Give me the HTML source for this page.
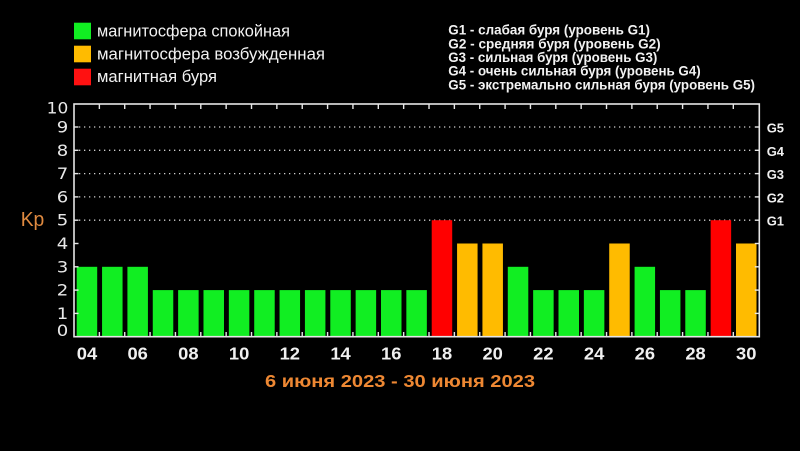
<!DOCTYPE html>
<html><head><meta charset="utf-8">
<style>
html,body{margin:0;padding:0;background:#000;}
svg{display:block;}
</style></head>
<body>
<svg width="800" height="451" viewBox="0 0 800 451" xmlns="http://www.w3.org/2000/svg">
<rect x="0" y="0" width="800" height="451" fill="#000"/>
<!-- Legend left -->
<rect x="74" y="22.7" width="17" height="16.6" fill="#11ee22"/>
<rect x="74" y="45.7" width="17" height="16.6" fill="#ffbb00"/>
<rect x="74" y="68.7" width="17" height="16.6" fill="#ff1111"/>
<g font-family="Liberation Sans, DejaVu Sans, sans-serif" font-size="17" fill="#f2f2f2">
<text x="97" y="36.7" textLength="193" lengthAdjust="spacingAndGlyphs">магнитосфера спокойная</text>
<text x="97" y="59.7" textLength="228" lengthAdjust="spacingAndGlyphs">магнитосфера возбужденная</text>
<text x="97" y="82.2" textLength="120" lengthAdjust="spacingAndGlyphs">магнитная буря</text>
</g>
<!-- Legend right -->
<g font-family="Liberation Sans, DejaVu Sans, sans-serif" font-size="14" font-weight="bold" fill="#f2f2f2">
<text x="448.3" y="34.3" textLength="201.7" lengthAdjust="spacingAndGlyphs">G1 - слабая буря (уровень G1)</text>
<text x="448.3" y="48.3" textLength="212.4" lengthAdjust="spacingAndGlyphs">G2 - средняя буря (уровень G2)</text>
<text x="448.3" y="62" textLength="209" lengthAdjust="spacingAndGlyphs">G3 - сильная буря (уровень G3)</text>
<text x="448.3" y="75.7" textLength="252.4" lengthAdjust="spacingAndGlyphs">G4 - очень сильная буря (уровень G4)</text>
<text x="448.3" y="89.3" textLength="306.7" lengthAdjust="spacingAndGlyphs">G5 - экстремально сильная буря (уровень G5)</text>
</g>
<!-- Grid dotted lines -->
<g stroke="#cfcfcf" stroke-width="1.3" stroke-dasharray="1.3 3.7">
<line x1="79" y1="127" x2="752" y2="127"/>
<line x1="79" y1="150.3" x2="752" y2="150.3"/>
<line x1="79" y1="173.6" x2="752" y2="173.6"/>
<line x1="79" y1="196.9" x2="752" y2="196.9"/>
<line x1="79" y1="220.2" x2="752" y2="220.2"/>
</g>
<!-- Bars -->
<g>
<rect x="76.7" y="266.8" width="20.5" height="69.9" fill="#11ee22"/>
<rect x="102.06" y="266.8" width="20.5" height="69.9" fill="#11ee22"/>
<rect x="127.42" y="266.8" width="20.5" height="69.9" fill="#11ee22"/>
<rect x="152.77" y="290.1" width="20.5" height="46.6" fill="#11ee22"/>
<rect x="178.13" y="290.1" width="20.5" height="46.6" fill="#11ee22"/>
<rect x="203.49" y="290.1" width="20.5" height="46.6" fill="#11ee22"/>
<rect x="228.85" y="290.1" width="20.5" height="46.6" fill="#11ee22"/>
<rect x="254.21" y="290.1" width="20.5" height="46.6" fill="#11ee22"/>
<rect x="279.56" y="290.1" width="20.5" height="46.6" fill="#11ee22"/>
<rect x="304.92" y="290.1" width="20.5" height="46.6" fill="#11ee22"/>
<rect x="330.28" y="290.1" width="20.5" height="46.6" fill="#11ee22"/>
<rect x="355.64" y="290.1" width="20.5" height="46.6" fill="#11ee22"/>
<rect x="381.0" y="290.1" width="20.5" height="46.6" fill="#11ee22"/>
<rect x="406.35" y="290.1" width="20.5" height="46.6" fill="#11ee22"/>
<rect x="431.71" y="220.2" width="20.5" height="116.5" fill="#ff0000"/>
<rect x="457.07" y="243.5" width="20.5" height="93.2" fill="#ffbb00"/>
<rect x="482.43" y="243.5" width="20.5" height="93.2" fill="#ffbb00"/>
<rect x="507.79" y="266.8" width="20.5" height="69.9" fill="#11ee22"/>
<rect x="533.14" y="290.1" width="20.5" height="46.6" fill="#11ee22"/>
<rect x="558.5" y="290.1" width="20.5" height="46.6" fill="#11ee22"/>
<rect x="583.86" y="290.1" width="20.5" height="46.6" fill="#11ee22"/>
<rect x="609.22" y="243.5" width="20.5" height="93.2" fill="#ffbb00"/>
<rect x="634.58" y="266.8" width="20.5" height="69.9" fill="#11ee22"/>
<rect x="659.93" y="290.1" width="20.5" height="46.6" fill="#11ee22"/>
<rect x="685.29" y="290.1" width="20.5" height="46.6" fill="#11ee22"/>
<rect x="710.65" y="220.2" width="20.5" height="116.5" fill="#ff0000"/>
<rect x="736.0" y="243.5" width="20.5" height="93.2" fill="#ffbb00"/>
</g>
<!-- Axes frame -->
<rect x="74" y="104" width="685.3" height="232.7" fill="none" stroke="#e6e6e6" stroke-width="1.6"/>
<!-- Ticks -->
<g stroke="#e6e6e6" stroke-width="1.4">
<line x1="74" y1="127" x2="78.5" y2="127"/><line x1="754.8" y1="127" x2="759.3" y2="127"/>
<line x1="74" y1="150.3" x2="78.5" y2="150.3"/><line x1="754.8" y1="150.3" x2="759.3" y2="150.3"/>
<line x1="74" y1="173.6" x2="78.5" y2="173.6"/><line x1="754.8" y1="173.6" x2="759.3" y2="173.6"/>
<line x1="74" y1="196.9" x2="78.5" y2="196.9"/><line x1="754.8" y1="196.9" x2="759.3" y2="196.9"/>
<line x1="74" y1="220.2" x2="78.5" y2="220.2"/><line x1="754.8" y1="220.2" x2="759.3" y2="220.2"/>
<line x1="74" y1="243.5" x2="78.5" y2="243.5"/><line x1="754.8" y1="243.5" x2="759.3" y2="243.5"/>
<line x1="74" y1="266.8" x2="78.5" y2="266.8"/><line x1="754.8" y1="266.8" x2="759.3" y2="266.8"/>
<line x1="74" y1="290.1" x2="78.5" y2="290.1"/><line x1="754.8" y1="290.1" x2="759.3" y2="290.1"/>
<line x1="74" y1="313.4" x2="78.5" y2="313.4"/><line x1="754.8" y1="313.4" x2="759.3" y2="313.4"/>
</g>
<g stroke="#e6e6e6" stroke-width="1.4">
<line x1="99.36" y1="104" x2="99.36" y2="109"/><line x1="99.36" y1="336.7" x2="99.36" y2="332"/>
<line x1="124.72" y1="104" x2="124.72" y2="109"/><line x1="124.72" y1="336.7" x2="124.72" y2="332"/>
<line x1="150.07" y1="104" x2="150.07" y2="109"/><line x1="150.07" y1="336.7" x2="150.07" y2="332"/>
<line x1="175.43" y1="104" x2="175.43" y2="109"/><line x1="175.43" y1="336.7" x2="175.43" y2="332"/>
<line x1="200.79" y1="104" x2="200.79" y2="109"/><line x1="200.79" y1="336.7" x2="200.79" y2="332"/>
<line x1="226.15" y1="104" x2="226.15" y2="109"/><line x1="226.15" y1="336.7" x2="226.15" y2="332"/>
<line x1="251.51" y1="104" x2="251.51" y2="109"/><line x1="251.51" y1="336.7" x2="251.51" y2="332"/>
<line x1="276.86" y1="104" x2="276.86" y2="109"/><line x1="276.86" y1="336.7" x2="276.86" y2="332"/>
<line x1="302.22" y1="104" x2="302.22" y2="109"/><line x1="302.22" y1="336.7" x2="302.22" y2="332"/>
<line x1="327.58" y1="104" x2="327.58" y2="109"/><line x1="327.58" y1="336.7" x2="327.58" y2="332"/>
<line x1="352.94" y1="104" x2="352.94" y2="109"/><line x1="352.94" y1="336.7" x2="352.94" y2="332"/>
<line x1="378.30" y1="104" x2="378.30" y2="109"/><line x1="378.30" y1="336.7" x2="378.30" y2="332"/>
<line x1="403.65" y1="104" x2="403.65" y2="109"/><line x1="403.65" y1="336.7" x2="403.65" y2="332"/>
<line x1="429.01" y1="104" x2="429.01" y2="109"/><line x1="429.01" y1="336.7" x2="429.01" y2="332"/>
<line x1="454.37" y1="104" x2="454.37" y2="109"/><line x1="454.37" y1="336.7" x2="454.37" y2="332"/>
<line x1="479.73" y1="104" x2="479.73" y2="109"/><line x1="479.73" y1="336.7" x2="479.73" y2="332"/>
<line x1="505.09" y1="104" x2="505.09" y2="109"/><line x1="505.09" y1="336.7" x2="505.09" y2="332"/>
<line x1="530.44" y1="104" x2="530.44" y2="109"/><line x1="530.44" y1="336.7" x2="530.44" y2="332"/>
<line x1="555.80" y1="104" x2="555.80" y2="109"/><line x1="555.80" y1="336.7" x2="555.80" y2="332"/>
<line x1="581.16" y1="104" x2="581.16" y2="109"/><line x1="581.16" y1="336.7" x2="581.16" y2="332"/>
<line x1="606.52" y1="104" x2="606.52" y2="109"/><line x1="606.52" y1="336.7" x2="606.52" y2="332"/>
<line x1="631.88" y1="104" x2="631.88" y2="109"/><line x1="631.88" y1="336.7" x2="631.88" y2="332"/>
<line x1="657.23" y1="104" x2="657.23" y2="109"/><line x1="657.23" y1="336.7" x2="657.23" y2="332"/>
<line x1="682.59" y1="104" x2="682.59" y2="109"/><line x1="682.59" y1="336.7" x2="682.59" y2="332"/>
<line x1="707.95" y1="104" x2="707.95" y2="109"/><line x1="707.95" y1="336.7" x2="707.95" y2="332"/>
<line x1="733.31" y1="104" x2="733.31" y2="109"/><line x1="733.31" y1="336.7" x2="733.31" y2="332"/>
</g>
<!-- Y labels -->
<g font-family="DejaVu Sans, Liberation Sans, sans-serif" font-size="16" fill="#e8e8e8" text-anchor="end">
<text x="68.3" y="113.3" textLength="21.6" lengthAdjust="spacingAndGlyphs">10</text>
<text x="68.3" y="132.5" textLength="11.5" lengthAdjust="spacingAndGlyphs">9</text>
<text x="68.3" y="155.8" textLength="11.5" lengthAdjust="spacingAndGlyphs">8</text>
<text x="68.3" y="179.1" textLength="11.5" lengthAdjust="spacingAndGlyphs">7</text>
<text x="68.3" y="202.4" textLength="11.5" lengthAdjust="spacingAndGlyphs">6</text>
<text x="68.3" y="225.7" textLength="11.5" lengthAdjust="spacingAndGlyphs">5</text>
<text x="68.3" y="249" textLength="11.5" lengthAdjust="spacingAndGlyphs">4</text>
<text x="68.3" y="272.3" textLength="11.5" lengthAdjust="spacingAndGlyphs">3</text>
<text x="68.3" y="295.6" textLength="11.5" lengthAdjust="spacingAndGlyphs">2</text>
<text x="68.3" y="318.9" textLength="11.5" lengthAdjust="spacingAndGlyphs">1</text>
<text x="68.3" y="336" textLength="11.5" lengthAdjust="spacingAndGlyphs">0</text>
</g>
<!-- Kp -->
<text x="20.7" y="226" font-family="Liberation Sans, sans-serif" font-size="20" fill="#e08a40" textLength="23.6" lengthAdjust="spacingAndGlyphs">Kp</text>
<!-- G labels -->
<g font-family="Liberation Sans, sans-serif" font-size="13" font-weight="bold" fill="#f0f0f0">
<text x="766.7" y="132.5" textLength="17.3" lengthAdjust="spacingAndGlyphs">G5</text>
<text x="766.7" y="155.8" textLength="17.3" lengthAdjust="spacingAndGlyphs">G4</text>
<text x="766.7" y="179.1" textLength="17.3" lengthAdjust="spacingAndGlyphs">G3</text>
<text x="766.7" y="202.4" textLength="17.3" lengthAdjust="spacingAndGlyphs">G2</text>
<text x="766.7" y="225.7" textLength="17.3" lengthAdjust="spacingAndGlyphs">G1</text>
</g>
<!-- X labels -->
<g font-family="Liberation Sans, sans-serif" font-size="17.5" font-weight="bold" fill="#f0f0f0" text-anchor="middle">
<text x="86.95" y="359.3" textLength="20.4" lengthAdjust="spacingAndGlyphs">04</text>
<text x="137.67" y="359.3" textLength="20.4" lengthAdjust="spacingAndGlyphs">06</text>
<text x="188.38" y="359.3" textLength="20.4" lengthAdjust="spacingAndGlyphs">08</text>
<text x="239.10" y="359.3" textLength="20.4" lengthAdjust="spacingAndGlyphs">10</text>
<text x="289.81" y="359.3" textLength="20.4" lengthAdjust="spacingAndGlyphs">12</text>
<text x="340.53" y="359.3" textLength="20.4" lengthAdjust="spacingAndGlyphs">14</text>
<text x="391.25" y="359.3" textLength="20.4" lengthAdjust="spacingAndGlyphs">16</text>
<text x="441.96" y="359.3" textLength="20.4" lengthAdjust="spacingAndGlyphs">18</text>
<text x="492.68" y="359.3" textLength="20.4" lengthAdjust="spacingAndGlyphs">20</text>
<text x="543.39" y="359.3" textLength="20.4" lengthAdjust="spacingAndGlyphs">22</text>
<text x="594.11" y="359.3" textLength="20.4" lengthAdjust="spacingAndGlyphs">24</text>
<text x="644.83" y="359.3" textLength="20.4" lengthAdjust="spacingAndGlyphs">26</text>
<text x="695.54" y="359.3" textLength="20.4" lengthAdjust="spacingAndGlyphs">28</text>
<text x="746.25" y="359.3" textLength="20.4" lengthAdjust="spacingAndGlyphs">30</text>
</g>
<!-- Title -->
<text x="265" y="387" font-family="Liberation Sans, sans-serif" font-size="17.5" font-weight="bold" fill="#ee8833" textLength="270" lengthAdjust="spacingAndGlyphs">6 июня 2023 - 30 июня 2023</text>
</svg>
</body></html>
